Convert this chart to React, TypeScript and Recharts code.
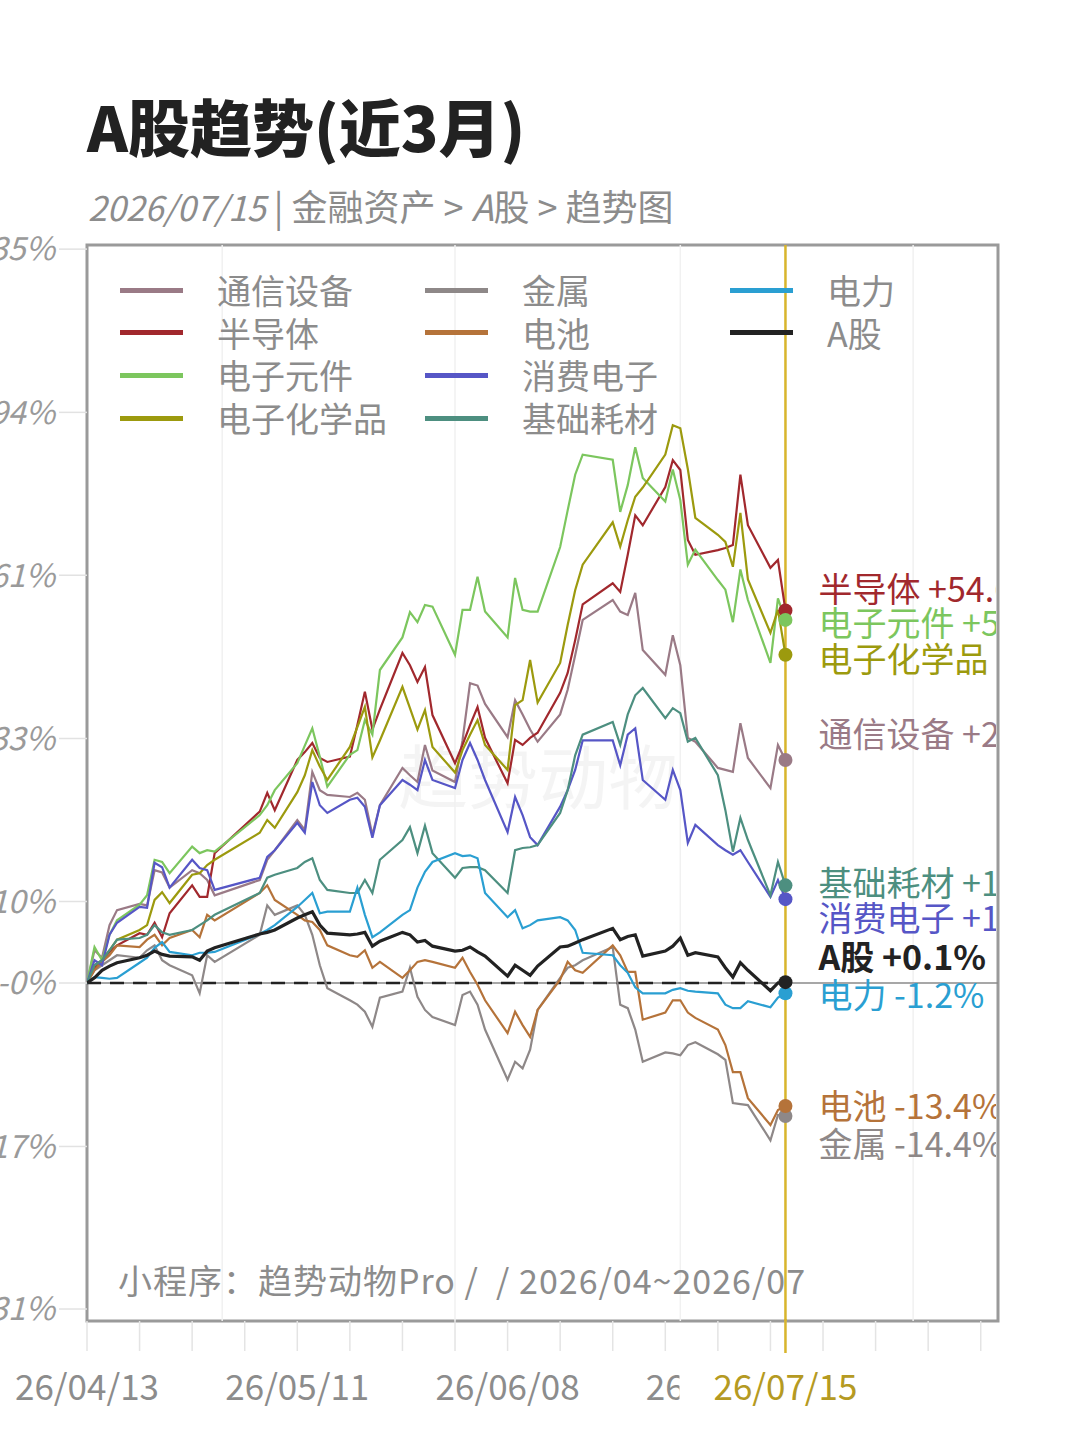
import { LineChart, Line, XAxis, YAxis, ReferenceLine, ReferenceArea } from "recharts";

// trading days, 2026
const DATES = [
  "04/13", "04/14", "04/15", "04/16", "04/17", "04/20", "04/21", "04/22", "04/23", "04/24", "04/27", "04/28", "04/29", "04/30",
  "05/06", "05/07", "05/08", "05/11", "05/12", "05/13", "05/14", "05/15", "05/18", "05/19", "05/20", "05/21", "05/22", "05/25", "05/26", "05/27", "05/28", "05/29",
  "06/01", "06/02", "06/03", "06/04", "06/05", "06/08", "06/09", "06/10", "06/11", "06/12", "06/15", "06/16", "06/17", "06/18", "06/22", "06/23", "06/24", "06/25", "06/26", "06/29", "06/30",
  "07/01", "07/02", "07/03", "07/06", "07/07", "07/08", "07/09", "07/10", "07/13", "07/14", "07/15",
];

// cumulative return, %
const TONGXIN = [
  0, 3.9, 3.0, 7.0, 8.9, 9.7, 9.5, 14.1, 13.8, 11.8, 14.1, 13.7, 12.8, 10.8,
  12.8, 15.5, 16.8, 21.0, 19.6, 28.0, 25.3, 24.6, 24.3, 24.9, 23.9, 18.9, 23.1, 28.6, 27.5, 26.5, 32.1, 28.2,
  26.5, 32.8, 42.0, 41.6, 38.6, 33.3, 39.2, 36.9, 34.5, 32.6, 36.9, 40.9, 46.7, 52.9, 56.5, 54.4, 53.8, 57.8, 47.6, 43.4, 50.2,
  45.0, 33.2, 32.6, 28.6, 28.3, 28.0, 35.5, 30.1, 25.6, 32.1, 29.8,
];
const BANDAOTI = [
  0, 1.8, 2.7, 3.7, 4.5, 6.0, 5.8, 7.3, 5.5, 8.5, 12.1, 10.6, 10.6, 16.4,
  22.2, 24.9, 22.4, 29.8, 31.0, 32.4, 30.1, 29.5, 30.3, 35.2, 40.6, 34.5, 37.7, 47.1, 45.0, 42.2, 44.7, 36.8,
  29.3, 32.1, 35.2, 38.1, 33.2, 26.3, 32.9, 32.1, 33.2, 34.0, 40.4, 43.7, 49.3, 55.7, 59.6, 58.0, 65.0, 72.8, 70.8, 78.6, 84.3,
  82.2, 67.9, 65.0, 65.9, 66.3, 66.9, 81.2, 70.8, 62.5, 64.0, 54.6,
];
const YUANJIAN = [
  0, 4.3, 2.7, 5.8, 7.6, 9.6, 10.8, 15.5, 15.2, 13.7, 17.3, 16.4, 16.8, 16.6,
  21.7, 23.1, 25.3, 29.3, 32.0, 34.7, 30.3, 25.8, 30.6, 31.3, 36.0, 33.7, 44.2, 49.8, 54.3, 52.5, 55.6, 55.3,
  46.8, 54.7, 54.7, 60.8, 54.4, 49.8, 60.6, 54.7, 54.4, 54.4, 66.5, 73.8, 81.2, 85.5, 84.4, 73.5, 79.0, 87.1, 80.5, 75.6, 82.3,
  75.9, 63.1, 66.0, 60.2, 58.4, 52.5, 62.2, 56.5, 45.4, 56.8, 52.9,
];
const HUAXUE = [
  0, 2.1, 2.7, 3.9, 5.2, 6.4, 7.0, 10.2, 11.2, 9.8, 13.5, 13.7, 14.8, 15.5,
  19.2, 21.0, 19.9, 25.0, 27.5, 31.3, 28.8, 26.8, 31.8, 34.9, 38.1, 30.2, 32.8, 41.4, 37.9, 34.5, 37.6, 31.8,
  27.9, 31.3, 33.7, 36.0, 32.1, 28.3, 38.4, 39.2, 45.9, 38.8, 45.4, 52.0, 58.3, 63.1, 71.4, 66.6, 71.8, 76.6, 78.5, 85.5, 92.0,
  91.3, 82.4, 72.3, 68.9, 67.5, 62.7, 73.3, 60.3, 50.6, 54.7, 46.8,
];
const JINSHU = [
  0, 1.5, 2.1, 2.7, 3.3, 3.0, 3.9, 4.5, 2.7, 2.1, 0.9, -1.2, 3.3, 2.5,
  5.8, 9.5, 8.3, 9.5, 8.3, 5.8, 2.1, -0.6, -2.0, -2.5, -3.3, -5.0, -1.7, -1.0, 1.8, -1.6, -3.1, -3.9,
  -4.8, -1.4, -1.0, -2.5, -5.3, -10.7, -8.8, -9.5, -7.5, -3.1, 0.6, 1.8, 2.1, 2.7, 4.3, -2.5, -2.9, -5.3, -8.8, -7.8, -7.9,
  -8.1, -7.0, -6.7, -8.0, -8.6, -13.1, -13.2, -13.3, -16.8, -14.3, -14.4,
];
const DIANCHI = [
  0, 1.5, 2.5, 3.3, 4.5, 4.3, 5.2, 5.8, 4.5, 5.4, 6.4, 5.5, 8.3, 7.6,
  11.1, 12.1, 10.2, 8.3, 7.6, 7.4, 6.4, 4.5, 3.3, 3.1, 3.9, 1.8, 2.5, 0.6, 1.5, 2.5, 2.7, 2.5,
  1.8, 3.0, 1.3, -0.2, -2.0, -5.7, -3.3, -4.8, -6.1, -3.1, 0.4, 2.5, 1.5, 1.2, 4.5, 3.3, 1.3, 1.3, -4.2, -3.4, -2.0,
  -2.0, -3.4, -4.0, -5.3, -7.0, -9.9, -9.9, -12.6, -15.3, -13.8, -13.4,
];
const XIAOFEI = [
  0, 2.7, 2.1, 5.8, 7.3, 9.3, 9.2, 15.1, 14.5, 11.8, 15.5, 14.4, 14.1, 11.5,
  13.1, 15.9, 16.8, 20.6, 19.2, 26.5, 23.1, 22.0, 23.9, 24.2, 22.9, 18.5, 23.1, 26.8, 26.1, 25.3, 29.8, 26.8,
  25.6, 29.8, 32.4, 29.8, 26.8, 19.3, 24.3, 21.7, 18.6, 17.5, 22.9, 25.3, 28.3, 32.8, 32.8, 29.0, 33.7, 34.7, 26.8, 23.9, 28.3,
  25.3, 17.8, 20.3, 17.5, 16.8, 16.2, 16.8, 15.2, 10.6, 12.8, 10.3,
];
const HAOCAI = [
  0, 2.1, 2.7, 3.9, 5.2, 5.4, 5.8, 7.0, 6.1, 5.8, 6.4, 7.0, 7.6, 8.3,
  11.1, 13.1, 13.5, 14.4, 15.2, 15.7, 12.8, 11.5, 11.1, 11.1, 12.8, 11.1, 15.5, 18.2, 20.0, 16.4, 20.2, 16.4,
  13.1, 14.4, 14.5, 14.5, 14.1, 11.1, 16.8, 17.1, 17.2, 17.5, 22.0, 25.3, 30.5, 33.7, 35.7, 32.1, 36.9, 40.0, 41.2, 36.3, 37.9,
  37.1, 32.6, 33.2, 27.5, 22.4, 16.6, 21.3, 18.2, 10.8, 15.2, 12.1,
];
const DIANLI = [
  0, 0.7, 0.6, 0.5, 0.6, 2.4, 3.0, 4.2, 4.9, 3.7, 3.3, 3.6, 3.6, 3.7,
  5.9, 6.4, 7.0, 9.3, 10.2, 11.1, 8.5, 8.7, 8.7, 11.8, 8.3, 5.5, 6.1, 8.3, 8.9, 11.8, 13.9, 15.2,
  16.4, 16.0, 16.1, 15.7, 11.1, 8.0, 8.9, 6.6, 7.0, 7.6, 8.0, 7.6, 6.4, 3.6, 3.3, 2.1, 1.2, -0.5, -1.2, -1.2, -0.8,
  -0.6, -0.9, -1.0, -1.2, -2.5, -2.9, -2.9, -2.1, -2.8, -1.7, -1.2,
];
const AGU = [
  0, 0.6, 1.5, 2.0, 2.4, 3.0, 3.3, 3.8, 3.4, 3.2, 3.1, 2.7, 3.8, 4.2,
  5.9, 6.1, 6.4, 7.9, 8.3, 8.7, 7.0, 6.0, 5.8, 5.9, 6.1, 4.4, 5.0, 6.1, 5.8, 4.9, 5.1, 4.4,
  3.8, 3.9, 4.3, 3.7, 3.2, 0.8, 2.1, 1.5, 0.9, 2.0, 4.3, 4.4, 4.8, 5.2, 6.6, 5.2, 5.6, 5.8, 3.2, 3.8, 4.4,
  5.4, 3.3, 3.6, 3.1, 1.8, 0.7, 2.4, 1.5, -0.9, 0, 0.1,
];

const X_LABELS = ["26/04/13", "26/05/11", "26/06/08", "26/07/06", "26/07/15"];
const MONTH_STARTS = ["05/01", "06/01", "07/01", "08/01"];
const Y_TICK_PCT = [-31.7, -17.4, 0, 10.0, 33.1, 61.1, 94.9, 135.9];
const Y_LABELS = ["-31%", "-17%", "-0%", "10%", "33%", "61%", "94%", "135%"];

const SERIES = [
  { name: "通信设备", values: TONGXIN, color: "#9a7a86", labelShift: -27 },
  { name: "半导体", values: BANDAOTI, color: "#a1282d", labelShift: -23 },
  { name: "电子元件", values: YUANJIAN, color: "#7cc65e", labelShift: 2 },
  { name: "电子化学品", values: HUAXUE, color: "#9c9a0e", labelShift: 3 },
  { name: "金属", values: JINSHU, color: "#8e8888", labelShift: 27 },
  { name: "电池", values: DIANCHI, color: "#b5733a", labelShift: -2 },
  { name: "消费电子", values: XIAOFEI, color: "#5656c6", labelShift: 17 },
  { name: "基础耗材", values: HAOCAI, color: "#4d8f80", labelShift: -4 },
  { name: "电力", values: DIANLI, color: "#2a9fd2", labelShift: 0 },
  { name: "A股", values: AGU, color: "#222222", labelShift: -27 },
];

const W = 1082;
const H = 1443;
const PLOT_LEFT = 87;
const PLOT_TOP = 245;
const PLOT_RIGHT = 998;
const PLOT_BOTTOM = 1321;
const X_AXIS_H = 30;
const ZERO_Y = 983;
const PX_PER_LOG = 81.5 / Math.log1p(0.1); // 0% -> 10% spans 81.5px
const Y_MAX = (ZERO_Y - PLOT_TOP) / PX_PER_LOG;
const Y_MIN = -(PLOT_BOTTOM - ZERO_Y) / PX_PER_LOG;
const X_MAX = 121.3;
const FONT = '"Noto Sans CJK SC", "Noto Sans", sans-serif';
const GREY = "#8c8c8c";

const toDay = (mmdd: string) => {
  const [m, d] = mmdd.split("/").map(Number);
  return Math.round((Date.UTC(2026, m - 1, d) - Date.UTC(2026, 3, 13)) / 86400000);
};

const rows = DATES.map((d, i) => {
  const row: Record<string, number> = { day: toDay(d) };
  SERIES.forEach((s) => (row[s.name] = Math.log1p(s.values[i] / 100)));
  return row;
});
const lastDay = toDay(DATES[DATES.length - 1]);
const labelDays: Record<number, string> = {};
X_LABELS.forEach((l) => (labelDays[toDay(l.slice(3))] = l));
const weekTicks = Array.from({ length: 18 }, (_, i) => i * 7);
const yTicks = Y_TICK_PCT.map((p) => Math.log1p(p / 100));

const fmt = (v: number) => `${v >= 0 ? "+" : ""}${v.toFixed(1)}%`;

function XTick({ x, y, payload }: any) {
  const label = labelDays[payload.value];
  if (!label) return <g />;
  const current = payload.value === lastDay;
  return (
    <g>
      {current && <rect x={x - 106} y={y + 8} width={212} height={56} fill="#fff" />}
      {current && <line x1={x} x2={x} y1={y - 34} y2={y} stroke="#d8b52c" strokeWidth={2.5} />}
      <text
        x={x}
        y={y}
        dy={47}
        textAnchor="middle"
        fontSize={35}
        fontFamily={FONT}
        fill={current ? "#b59a22" : GREY}
      >
        {label}
      </text>
    </g>
  );
}

function endMark(s: (typeof SERIES)[number]) {
  const last = s.values.length - 1;
  return (props: any) => {
    const { cx, cy, index } = props;
    if (index !== last) return <g key={`${s.name}-${index}`} />;
    const bold = s.name === "A股";
    return (
      <g key={`${s.name}-end`}>
        <circle cx={cx} cy={cy} r={7} fill={s.color} />
        <text
          x={cx + 33}
          y={cy + s.labelShift}
          dominantBaseline="central"
          fontSize={34}
          fontFamily={FONT}
          fontWeight={bold ? 700 : 400}
          fill={s.color}
          clipPath="url(#plot-clip)"
        >
          {`${s.name} ${fmt(s.values[last])}`}
        </text>
      </g>
    );
  };
}

export default function App() {
  return (
    <div
      style={{
        position: "absolute",
        left: 0,
        top: 0,
        width: W,
        height: H,
        background: "#fff",
        overflow: "hidden",
        fontFamily: FONT,
      }}
    >
      <svg width={0} height={0} style={{ position: "absolute" }}>
        <defs>
          <clipPath id="plot-clip" clipPathUnits="userSpaceOnUse">
            <rect x={0} y={0} width={PLOT_RIGHT - 2} height={H} />
          </clipPath>
        </defs>
      </svg>

      <div
        style={{
          position: "absolute",
          left: 87,
          top: 90,
          fontSize: 62,
          lineHeight: "70px",
          fontWeight: 900,
          color: "#222",
        }}
      >
        A股趋势(近3月)
      </div>
      <div
        style={{
          position: "absolute",
          left: 88,
          top: 183,
          fontSize: 36,
          lineHeight: "44px",
          color: GREY,
          whiteSpace: "pre",
        }}
      >
        <i style={{ fontSize: 34 }}>2026/07/15</i> | 金融资产 &gt; <i>A</i>股 &gt; 趋势图
      </div>

      <div
        style={{
          position: "absolute",
          left: 398,
          top: 732,
          fontSize: 70,
          lineHeight: "84px",
          color: "rgba(0,0,0,0.045)",
        }}
      >
        趋势动物
      </div>

      <div style={{ position: "absolute", left: 0, top: 0 }}>
        <LineChart
          width={W}
          height={H}
          data={rows}
          margin={{ top: PLOT_TOP, right: W - PLOT_RIGHT, bottom: H - PLOT_BOTTOM - X_AXIS_H, left: 0 }}
        >
          <XAxis
            dataKey="day"
            type="number"
            height={X_AXIS_H}
            domain={[0, X_MAX]}
            allowDataOverflow
            ticks={[...weekTicks, lastDay]}
            interval={0}
            tickSize={30}
            tickLine={{ stroke: "#e4e4e4", strokeWidth: 1.5 }}
            axisLine={false}
            tick={<XTick />}
          />
          <YAxis
            type="number"
            width={PLOT_LEFT}
            domain={[Y_MIN, Y_MAX]}
            allowDataOverflow
            ticks={yTicks}
            interval={0}
            tickSize={28}
            tickMargin={4}
            tickLine={{ stroke: "#e2e2e2", strokeWidth: 1.5 }}
            axisLine={false}
            tickFormatter={(_v: number, i: number) => Y_LABELS[i]}
            tick={{ fill: "#9a9a9a", fontSize: 32, fontStyle: "italic", fontFamily: FONT }}
          />
          {MONTH_STARTS.map((m) => (
            <ReferenceLine key={m} x={toDay(m)} stroke="#f1f1f1" strokeWidth={1.5} />
          ))}
          <ReferenceLine y={0} stroke="#8a8a8a" strokeWidth={1.5} />
          <ReferenceLine
            segment={[
              { x: 0, y: 0 },
              { x: lastDay, y: 0 },
            ]}
            stroke="#222"
            strokeWidth={2.5}
            strokeDasharray="14 9"
          />
          <ReferenceLine x={lastDay} stroke="#d8b52c" strokeWidth={2.5} />
          {SERIES.map((s) => (
            <Line
              key={s.name}
              dataKey={s.name}
              type="linear"
              stroke={s.color}
              strokeWidth={s.name === "A股" ? 3.2 : 2.2}
              dot={endMark(s)}
              activeDot={false}
              isAnimationActive={false}
            />
          ))}
          <ReferenceArea
            x1={0}
            x2={X_MAX}
            y1={Y_MIN}
            y2={Y_MAX}
            fill="none"
            fillOpacity={0}
            stroke="#9a9a9a"
            strokeWidth={3}
            ifOverflow="visible"
          />
        </LineChart>
      </div>

      {SERIES.map((s, i) => {
        const col = Math.floor(i / 4);
        const row = i % 4;
        const left = 120 + col * 305;
        const cy = 290 + row * 42.7;
        return (
          <div
            key={s.name}
            style={{ position: "absolute", left, top: cy - 21, height: 42, display: "flex", alignItems: "center" }}
          >
            <div style={{ width: 63, height: 5, background: s.color }} />
            <div style={{ marginLeft: 34, fontSize: 34, lineHeight: "42px", color: GREY, whiteSpace: "nowrap" }}>
              {s.name}
            </div>
          </div>
        );
      })}

      <div
        style={{
          position: "absolute",
          left: 118,
          top: 1258,
          fontSize: 34,
          lineHeight: "44px",
          letterSpacing: 1,
          color: GREY,
          whiteSpace: "pre",
        }}
      >
        小程序：趋势动物Pro /  / 2026/04~2026/07
      </div>
    </div>
  );
}
